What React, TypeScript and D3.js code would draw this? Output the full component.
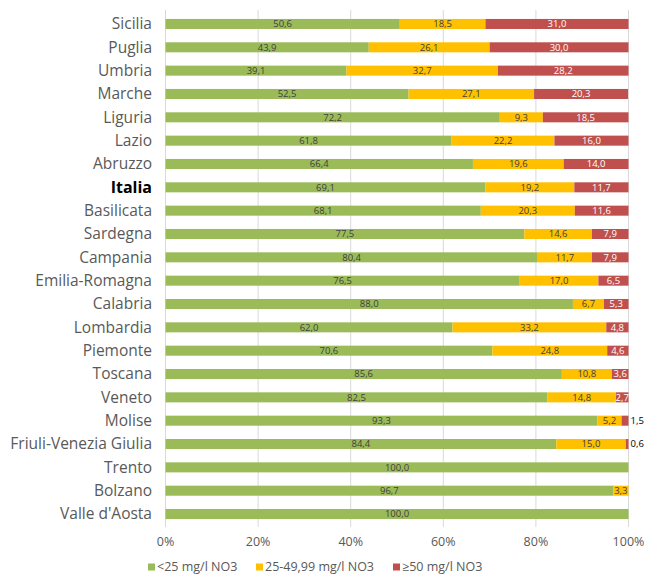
import * as d3 from 'd3';

// regions, top to bottom
const regions = [
  'Sicilia', 'Puglia', 'Umbria', 'Marche', 'Liguria', 'Lazio', 'Abruzzo', 'Italia',
  'Basilicata', 'Sardegna', 'Campania', 'Emilia-Romagna', 'Calabria', 'Lombardia',
  'Piemonte', 'Toscana', 'Veneto', 'Molise', 'Friuli-Venezia Giulia', 'Trento',
  'Bolzano', "Valle d'Aosta",
];

// share of monitoring stations by nitrate class (%)
const low = [50.6, 43.9, 39.1, 52.5, 72.2, 61.8, 66.4, 69.1, 68.1, 77.5, 80.4, 76.5, 88.0, 62.0, 70.6, 85.6, 82.5, 93.3, 84.4, 100.0, 96.7, 100.0];
const mid = [18.5, 26.1, 32.7, 27.1, 9.3, 22.2, 19.6, 19.2, 20.3, 14.6, 11.7, 17.0, 6.7, 33.2, 24.8, 10.8, 14.8, 5.2, 15.0, 0, 3.3, 0];
const high = [31.0, 30.0, 28.2, 20.3, 18.5, 16.0, 14.0, 11.7, 11.6, 7.9, 7.9, 6.5, 5.3, 4.8, 4.6, 3.6, 2.7, 1.5, 0.6, 0, 0, 0];

const seriesNames = ['<25 mg/l NO3', '25-49,99 mg/l NO3', '≥50 mg/l NO3'];
const seriesColors = ['#9BBB59', '#FFC000', '#C0504D'];
const ticks = [0, 20, 40, 60, 80, 100];

const width = 657;
const height = 583;
const font = '"Open Sans", Lato, sans-serif';

const fmt = (v: number) => v.toFixed(1).replace('.', ',');

export default function App() {
  const x = d3.scaleLinear().domain([0, 100]).range([165.5, 628.5]);
  const y = d3.scaleBand<string>().domain(regions).range([12.3, 525.7]).paddingInner(0.57).paddingOuter(0.285);

  const rows = regions.map((name, i) => ({ name, low: low[i], mid: mid[i], high: high[i] }));
  const stacked = d3.stack<any>().keys(['low', 'mid', 'high'])(rows);

  return (
    <svg width={width} height={height} style={{ position: 'absolute', left: 0, top: 0, fontFamily: font }}>
      <rect width={width} height={height} fill="#fff" />
      {ticks.map((t) => (
        <g key={t}>
          <line x1={x(t)} x2={x(t)} y1={10} y2={527} stroke="#D9D9D9" strokeWidth={1} />
          <text x={x(t)} y={546} textAnchor="middle" fontSize={12.5} fill="#595959">{t}%</text>
        </g>
      ))}
      {stacked.map((layer, si) =>
        layer.map((d, i) => {
          const v = d[1] - d[0];
          if (v <= 0) return null;
          const x0 = x(d[0]);
          const x1 = x(Math.min(d[1], 100));
          const yc = (y(regions[i]) as number) + y.bandwidth() / 2;
          const outside = si === 2 && v < 2;
          return (
            <g key={`${si}-${i}`}>
              <rect x={x0} y={y(regions[i])} width={x1 - x0} height={y.bandwidth()} fill={seriesColors[si]} />
              <text
                x={outside ? x1 + 2 : (x0 + x1) / 2}
                y={yc}
                dy="0.35em"
                textAnchor={outside ? 'start' : 'middle'}
                fontSize={9.5}
                fill={outside ? '#000' : si === 2 ? '#fff' : '#404040'}
              >
                {fmt(v)}
              </text>
            </g>
          );
        })
      )}
      {regions.map((r) => (
        <text
          key={r}
          x={152}
          y={(y(r) as number) + y.bandwidth() / 2}
          dy="0.35em"
          textAnchor="end"
          fontSize={r === 'Italia' ? 16 : 15.5}
          fontWeight={r === 'Italia' ? 700 : 400}
          fill={r === 'Italia' ? '#000' : '#595959'}
        >
          {r}
        </text>
      ))}
      {[148, 256, 393].map((lx, i) => (
        <g key={i} transform={`translate(${lx},567)`}>
          <rect x={0} y={-3.5} width={7} height={7} fill={seriesColors[i]} />
          <text x={9} y={0} dy="0.35em" fontSize={12.5} fill="#595959">{seriesNames[i]}</text>
        </g>
      ))}
    </svg>
  );
}
